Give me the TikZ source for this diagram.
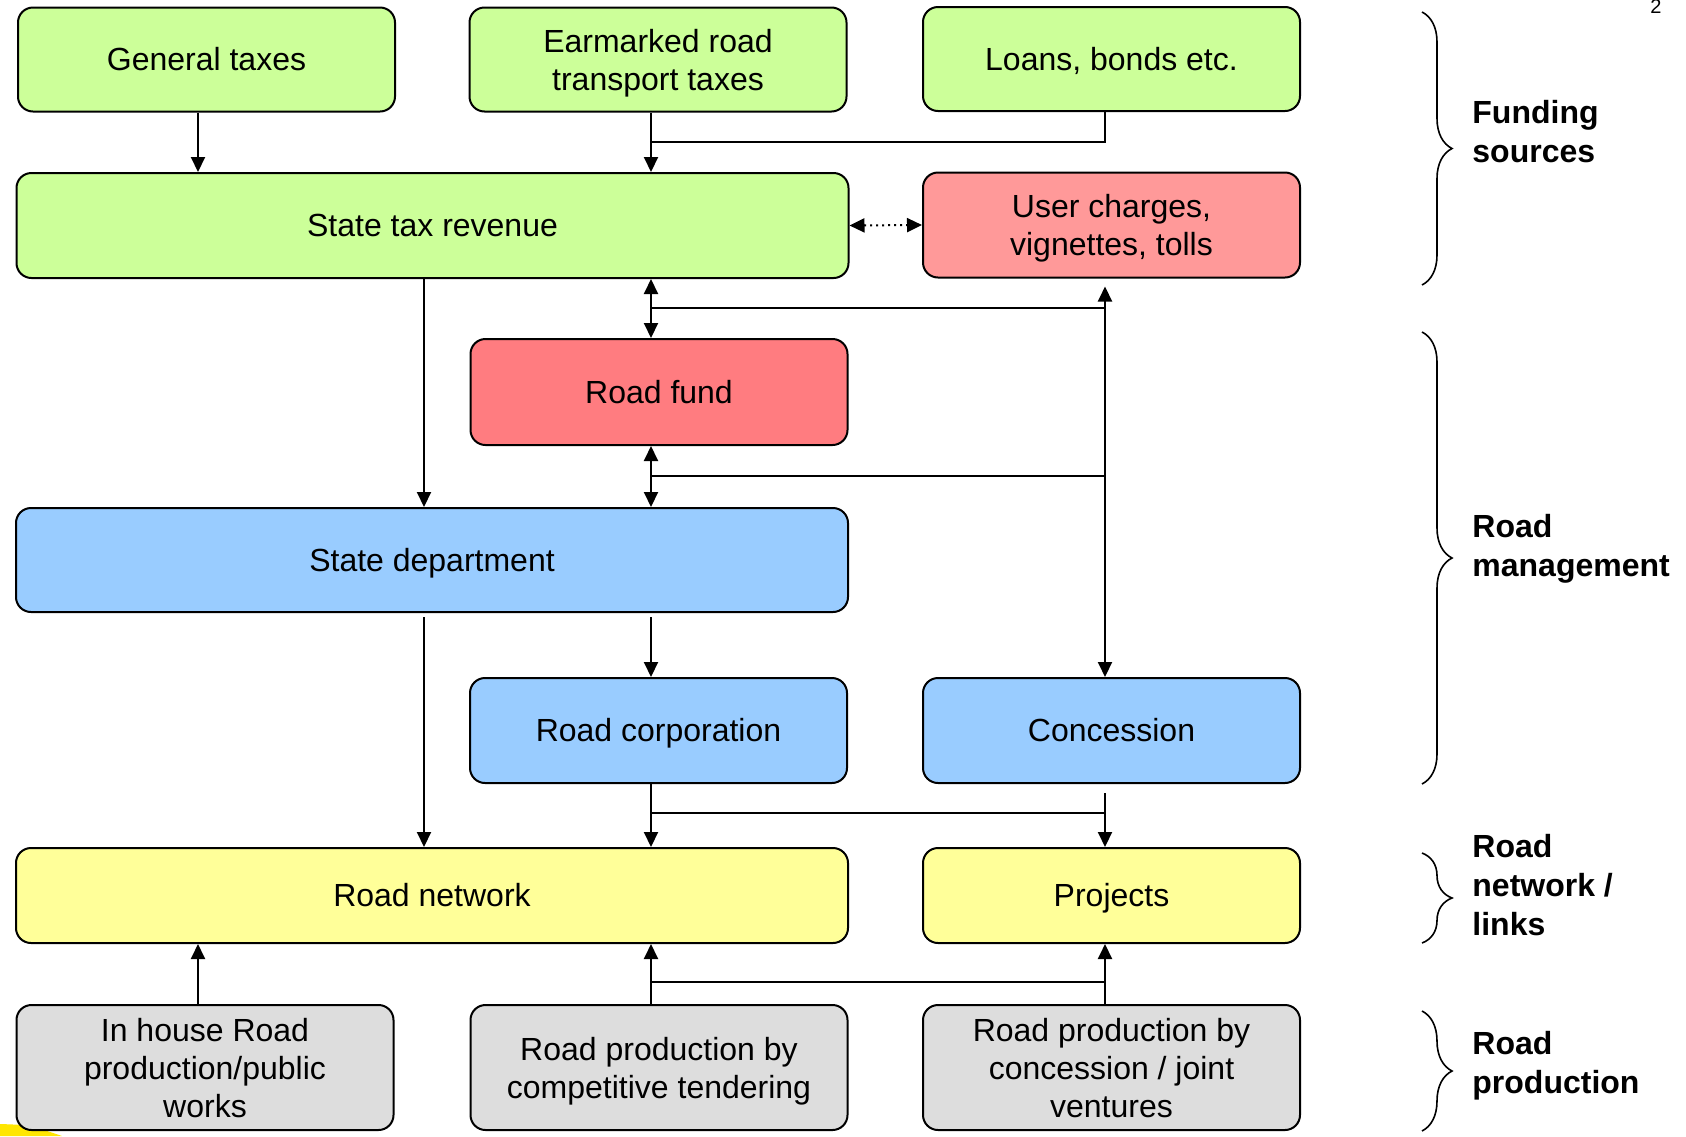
\documentclass[tikz,border=0pt]{standalone}
\usepackage{fontspec}
\setmainfont{Liberation Sans}
\usetikzlibrary{arrows.meta,decorations.pathreplacing}
\definecolor{fundgreen}{HTML}{CCFF99}
\definecolor{chargered}{HTML}{FF9999}
\definecolor{fundred}{HTML}{FF7C80}
\definecolor{mgmtblue}{HTML}{99CCFF}
\definecolor{netyellow}{HTML}{FFFF99}
\definecolor{prodgrey}{HTML}{DDDDDD}
\definecolor{swoosh}{HTML}{FFE600}
\newcommand\capline[1]{\smash{#1}\vphantom{E}}
\begin{document}
\begin{tikzpicture}[x=0.5pt,y=-0.5pt,
  box/.style={draw,line width=1pt,rounded corners=7.5pt,align=center,inner sep=2pt,
    font=\fontsize{16}{19}\selectfont},
  narrow/.style={box,minimum width=188.5pt},
  wide/.style={box,minimum width=416pt},
  link/.style={line width=1pt},
  arr/.style={line width=1pt,-{Triangle[length=7.5pt,width=7pt]}},
  dblarr/.style={line width=1pt,{Triangle[length=7.5pt,width=7pt]}-{Triangle[length=7.5pt,width=7pt]}},
  brace/.style={line width=0.8pt,decorate,decoration={brace,amplitude=15pt}},
  level/.style={anchor=west,align=left,inner sep=0pt,font=\fontsize{16}{19.5}\selectfont\bfseries}]
\useasboundingbox (0,0) rectangle (1686,1136);
\fill[swoosh] (0,1124) .. controls (30,1125) .. (62,1136) -- (0,1136) -- cycle;

\node[narrow,fill=fundgreen,minimum height=52pt] (gentax) at (206.5,59.5) {\capline{General taxes}};
\node[narrow,fill=fundgreen,minimum height=52pt] (earmark) at (658,59.5) {Earmarked road\\\capline{transport taxes}};
\node[narrow,fill=fundgreen,minimum height=52pt] (loans) at (1111.5,59) {\capline{Loans, bonds etc.}};
\node[wide,fill=fundgreen,minimum height=52.5pt] (strev) at (432.5,225.5) {\capline{State tax revenue}};
\node[narrow,fill=chargered,minimum height=52.5pt] (usercharge) at (1111.5,225) {User charges,\\\capline{vignettes, tolls}};
\node[narrow,fill=fundred,minimum height=53pt] (roadfund) at (659,392) {\capline{Road fund}};
\node[wide,fill=mgmtblue,minimum height=52pt] (statedep) at (432,560) {\capline{State department}};
\node[narrow,fill=mgmtblue,minimum height=52.5pt] (roadcorp) at (658.5,730.5) {\capline{Road corporation}};
\node[narrow,fill=mgmtblue,minimum height=52.5pt] (concession) at (1111.5,730.5) {\capline{Concession}};
\node[wide,fill=netyellow,minimum height=47.5pt] (roadnet) at (432,895.5) {\capline{Road network}};
\node[narrow,fill=netyellow,minimum height=47.5pt] (projects) at (1111.5,895.5) {\capline{Projects}};
\node[narrow,fill=prodgrey,minimum height=62.5pt] (inhouse) at (205,1067.5) {In house Road\\production/public\\\capline{works}};
\node[narrow,fill=prodgrey,minimum height=62.5pt] (tender) at (659,1067.5) {Road production by\\\capline{competitive tendering}};
\node[narrow,fill=prodgrey,minimum height=62.5pt] (jointvent) at (1111.5,1067.5) {Road production by\\concession / joint\\\capline{ventures}};

\coordinate (xl) at (198,0);
\coordinate (xs) at (424,0);
\coordinate (xm) at (651,0);
\coordinate (xr) at (1105,0);
\coordinate (j1) at (651,142);
\coordinate (j2) at (651,308);
\coordinate (j3) at (651,476);
\coordinate (j4) at (651,813);
\coordinate (j5) at (651,982);

\draw[arr] (gentax.south -| xl) -- (strev.north -| xl);
\draw[arr] (earmark.south -| xm) -- (strev.north -| xm);
\draw[link] (loans.south -| xr) |- (j1);
\draw[dblarr,dotted] (strev.east) -- (usercharge.west);
\draw[dblarr] (strev.south -| xm) -- (roadfund.north -| xm);
\draw[dblarr,shorten <=4pt] (usercharge.south -| xr) -- (concession.north -| xr);
\draw[link] (j2) -- (xr |- j2);
\draw[dblarr] (roadfund.south -| xm) -- (statedep.north -| xm);
\draw[link] (j3) -- (xr |- j3);
\draw[arr] (strev.south -| xs) -- (statedep.north -| xs);
\draw[arr,shorten <=2pt] (statedep.south -| xs) -- (roadnet.north -| xs);
\draw[arr,shorten <=2pt] (statedep.south -| xm) -- (roadcorp.north -| xm);
\draw[arr] (roadcorp.south -| xm) -- (roadnet.north -| xm);
\draw[link] (j4) -- (xr |- j4);
\draw[arr,shorten <=4.5pt] (concession.south -| xr) -- (projects.north -| xr);
\draw[arr] (inhouse.north -| xl) -- (roadnet.south -| xl);
\draw[arr] (tender.north -| xm) -- (roadnet.south -| xm);
\draw[link] (j5) -- (xr |- j5);
\draw[arr] (jointvent.north -| xr) -- (projects.south -| xr);

\draw[brace] (1422,12) -- (1422,285);
\draw[brace] (1422,332) -- (1422,784);
\draw[brace] (1422,853) -- (1422,943);
\draw[brace] (1422,1011) -- (1422,1131);
\node[level] (funding) at (1472,131.5) {Funding\\sources};
\node[level] (management) at (1472,548.5) {Road\\management};
\node[level] (network) at (1472,885.5) {Road\\network /\\links};
\node[level] (production) at (1472,1066) {Road\\production};
\node[font=\fontsize{10}{12}\selectfont,inner sep=0pt] (pagenum) at (1656,7) {2};
\end{tikzpicture}
\end{document}
